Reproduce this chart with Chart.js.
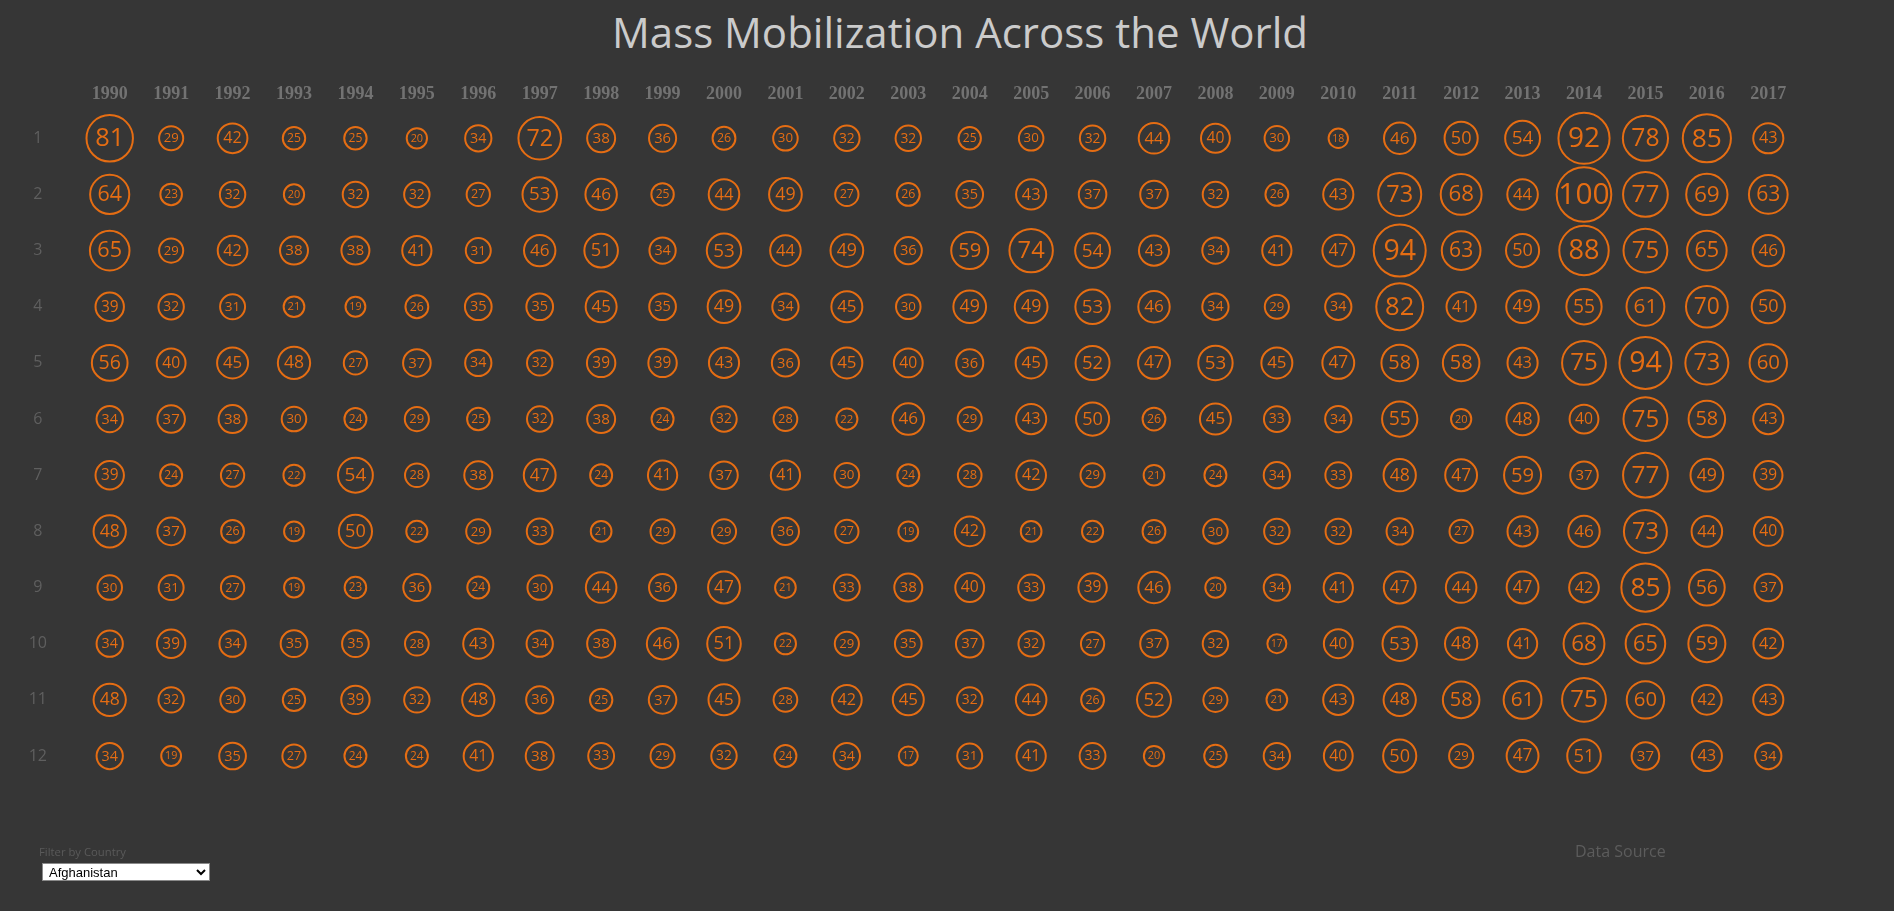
<!DOCTYPE html>
<html>
<head>
<meta charset="utf-8">
<title>Mass Mobilization Across the World</title>
<script src="https://cdn.jsdelivr.net/npm/chart.js@4.4.0/dist/chart.umd.min.js"></script>
<style>
  html, body { margin: 0; padding: 0; background: #363636; width: 1894px; height: 911px; overflow: hidden; }
  #wrap { position: absolute; left: 0; top: 0; width: 1894px; height: 911px; }
  #title { position: absolute; left: 960px; top: 11px; transform: translateX(-50%); white-space: nowrap;
           font-family: 'Open Sans', sans-serif; font-size: 42px; line-height: 42px; color: #cbcbcb; }
  #filterLbl { position: absolute; left: 39px; top: 845px; font-family: 'Open Sans', sans-serif; font-size: 11.3px; line-height: 14px; color: #5a5a5a; }
  #country { position: absolute; left: 42px; top: 863px; width: 168px; height: 18px; font-family: 'Liberation Sans', Arial, sans-serif;
             font-size: 13px; background: #fff; color: #000; border: 1px solid #8a8a8a; border-radius: 0; padding: 0 2px; box-sizing: border-box; }
  #source { position: absolute; left: 1575px; top: 841px; font-family: 'Open Sans', sans-serif; font-size: 16px; line-height: 20px; color: #5c5c5c; }
</style>
</head>
<body>
<div id="title">Mass Mobilization Across the World</div>
<div id="wrap"><canvas id="c"></canvas></div>
<div id="filterLbl">Filter by Country</div>
<select id="country"><option>Afghanistan</option><option>Albania</option><option>Algeria</option></select>
<div id="source">Data Source</div>
<script>
// ---- data ----
const years = ['1990','1991','1992','1993','1994','1995','1996','1997','1998','1999','2000','2001','2002','2003',
               '2004','2005','2006','2007','2008','2009','2010','2011','2012','2013','2014','2015','2016','2017'];
const months = ['1','2','3','4','5','6','7','8','9','10','11','12'];

const jan = [81,29,42,25,25,20,34,72,38,36,26,30,32,32,25,30,32,44,40,30,18,46,50,54,92,78,85,43];
const feb = [64,23,32,20,32,32,27,53,46,25,44,49,27,26,35,43,37,37,32,26,43,73,68,44,100,77,69,63];
const mar = [65,29,42,38,38,41,31,46,51,34,53,44,49,36,59,74,54,43,34,41,47,94,63,50,88,75,65,46];
const apr = [39,32,31,21,19,26,35,35,45,35,49,34,45,30,49,49,53,46,34,29,34,82,41,49,55,61,70,50];
const may = [56,40,45,48,27,37,34,32,39,39,43,36,45,40,36,45,52,47,53,45,47,58,58,43,75,94,73,60];
const jun = [34,37,38,30,24,29,25,32,38,24,32,28,22,46,29,43,50,26,45,33,34,55,20,48,40,75,58,43];
const jul = [39,24,27,22,54,28,38,47,24,41,37,41,30,24,28,42,29,21,24,34,33,48,47,59,37,77,49,39];
const aug = [48,37,26,19,50,22,29,33,21,29,29,36,27,19,42,21,22,26,30,32,32,34,27,43,46,73,44,40];
const sep = [30,31,27,19,23,36,24,30,44,36,47,21,33,38,40,33,39,46,20,34,41,47,44,47,42,85,56,37];
const oct = [34,39,34,35,35,28,43,34,38,46,51,22,29,35,37,32,27,37,32,17,40,53,48,41,68,65,59,42];
const nov = [48,32,30,25,39,32,48,36,25,37,45,28,42,45,32,44,26,52,29,21,43,48,58,61,75,60,42,43];
const dec = [34,19,35,27,24,24,41,38,33,29,32,24,34,17,31,41,33,20,25,34,40,50,29,47,51,37,43,34];

const rows = [jan, feb, mar, apr, may, jun, jul, aug, sep, oct, nov, dec];

// ---- styling ----
const ORANGE = '#e56d13';
const radiusOf = v => 5.84 + 0.2146 * v;
const fontOf = v => 6.2 + 0.237 * v;

const points = [];
rows.forEach((row, m) => row.forEach((v, yi) => points.push({ x: yi, y: m, r: radiusOf(v), v: v })));

const labelPlugin = {
  id: 'bubbleLabels',
  afterDatasetsDraw(chart) {
    const ctx = chart.ctx;
    const meta = chart.getDatasetMeta(0);
    const data = chart.data.datasets[0].data;
    ctx.save();
    ctx.fillStyle = ORANGE;
    ctx.textAlign = 'center';
    ctx.textBaseline = 'middle';
    meta.data.forEach((el, i) => {
      const v = data[i].v;
      const fs = fontOf(v);
      ctx.font = fs.toFixed(1) + 'px "Open Sans", sans-serif';
      ctx.fillText(String(v), el.x, el.y + fs * 0.03);
    });
    ctx.restore();
  }
};

new Chart(document.getElementById('c'), {
  type: 'bubble',
  data: {
    datasets: [{
      data: points,
      backgroundColor: 'rgba(0,0,0,0)',
      borderColor: ORANGE,
      borderWidth: 2,
      clip: false
    }]
  },
  options: {
    responsive: true,
    maintainAspectRatio: false,
    animation: false,
    events: [],
    layout: { autoPadding: false, padding: { top: 0, left: 0, right: 95, bottom: 126.9 } },
    plugins: { legend: { display: false }, tooltip: { enabled: false }, title: { display: false } },
    scales: {
      x: {
        type: 'linear', position: 'top', min: -0.5, max: 27.5,
        grid: { display: false, drawTicks: false }, border: { display: false },
        afterBuildTicks: s => { s.ticks = years.map((y, i) => ({ value: i })); },
        afterFit: s => { s.height = 110.2; },
        ticks: {
          autoSkip: false, maxRotation: 0, padding: 5.5,
          callback: v => years[v],
          color: '#727272',
          font: { family: '"Liberation Serif", "DejaVu Serif", serif', size: 18, weight: 'bold' }
        }
      },
      y: {
        type: 'linear', reverse: true, min: -0.5, max: 11.5,
        grid: { display: false, drawTicks: false }, border: { display: false },
        afterBuildTicks: s => { s.ticks = months.map((m, i) => ({ value: i })); },
        afterFit: s => { s.width = 79; },
        ticks: {
          autoSkip: false, crossAlign: 'center', padding: 32,
          callback: v => months[v],
          color: '#5f5f5f',
          font: { family: '"Open Sans", sans-serif', size: 16 }
        }
      }
    }
  },
  plugins: [labelPlugin]
});
</script>
</body>
</html>
